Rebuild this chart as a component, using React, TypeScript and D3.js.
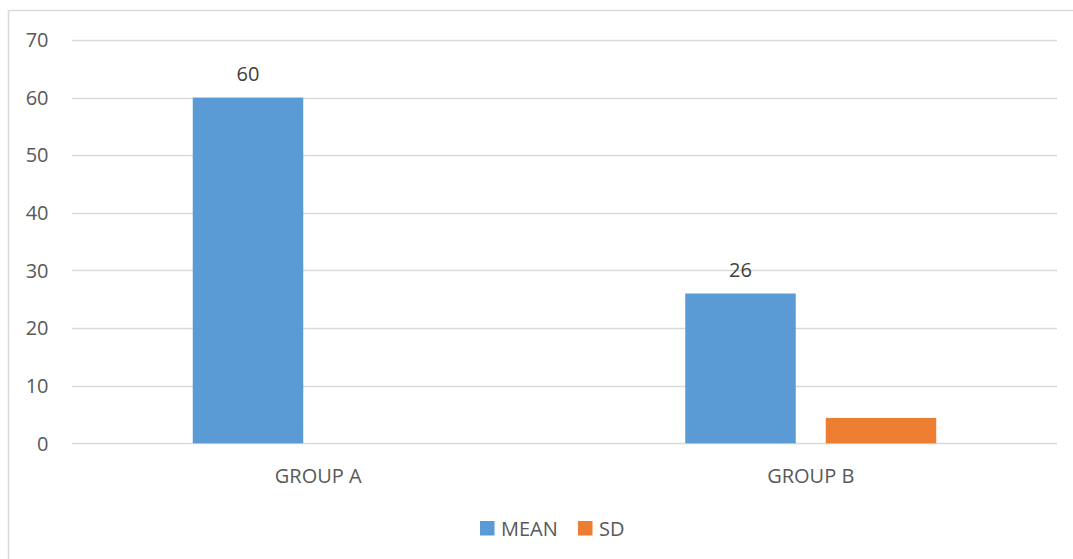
import React from "react";
import * as d3 from "d3";

const categories = ["GROUP A", "GROUP B"];
const seriesNames = ["MEAN", "SD"];
const meanValues = [60, 26];
const sdValues = [0, 4.4];
const yTicks = [0, 10, 20, 30, 40, 50, 60, 70];
const colors = ["#5B9BD5", "#ED7D31"];

const W = 1073;
const H = 559;
const FONT = "'Open Sans', sans-serif";
const TEXT = "#595959";
const GRID = "#D9D9D9";

export default function App() {
  const plotLeft = 72;
  const plotRight = 1057;
  const y = d3.scaleLinear().domain([0, 70]).range([443.3, 40]);
  const x0 = d3
    .scaleBand<string>()
    .domain(categories)
    .range([plotLeft, plotRight])
    .paddingInner(0)
    .paddingOuter(0);
  const bw = 110.5;
  const gap = 30;
  const x1 = d3
    .scaleOrdinal<string, number>()
    .domain(seriesNames)
    .range([-(bw + gap / 2), gap / 2]);
  const values = [meanValues, sdValues];

  return (
    <svg
      width={W}
      height={H}
      style={{ position: "absolute", left: 0, top: 0, background: "#fff" }}
      fontFamily={FONT}
    >
      <rect x={8.5} y={10.5} width={1100} height={600} fill="#fff" stroke={GRID} strokeWidth={1.5} />
      {yTicks.map((t) => (
        <g key={t}>
          <line
            x1={plotLeft}
            x2={plotRight}
            y1={Math.round(y(t)) + 0.5}
            y2={Math.round(y(t)) + 0.5}
            stroke={GRID}
            strokeWidth={1.3}
          />
          <text
            x={48.5}
            y={y(t)}
            dy="0.36em"
            textAnchor="end"
            fontSize={20}
            fill={TEXT}
          >
            {t}
          </text>
        </g>
      ))}
      {categories.map((c, ci) => {
        const cx = (x0(c) as number) + x0.bandwidth() / 2;
        return (
          <g key={c}>
            {seriesNames.map((s, si) => {
              const v = values[si][ci];
              if (v <= 0) return null;
              const bx = cx + x1(s);
              return (
                <rect
                  key={s}
                  x={bx}
                  y={y(v)}
                  width={bw}
                  height={y(0) - y(v)}
                  fill={colors[si]}
                />
              );
            })}
            <text
              x={cx + x1("MEAN") + bw / 2}
              y={y(meanValues[ci]) - 17}
              textAnchor="middle"
              fontSize={20}
              fill="#404040"
            >
              {meanValues[ci]}
            </text>
            <text x={cx} y={482.7} textAnchor="middle" fontSize={20} fill={TEXT}>
              {c}
            </text>
          </g>
        );
      })}
      {seriesNames.map((s, i) => {
        const lx = [480, 578][i];
        return (
          <g key={s}>
            <rect x={lx} y={521} width={14.5} height={14.5} fill={colors[i]} />
            <text x={lx + 21} y={536} fontSize={20} fill={TEXT}>
              {s}
            </text>
          </g>
        );
      })}
    </svg>
  );
}
